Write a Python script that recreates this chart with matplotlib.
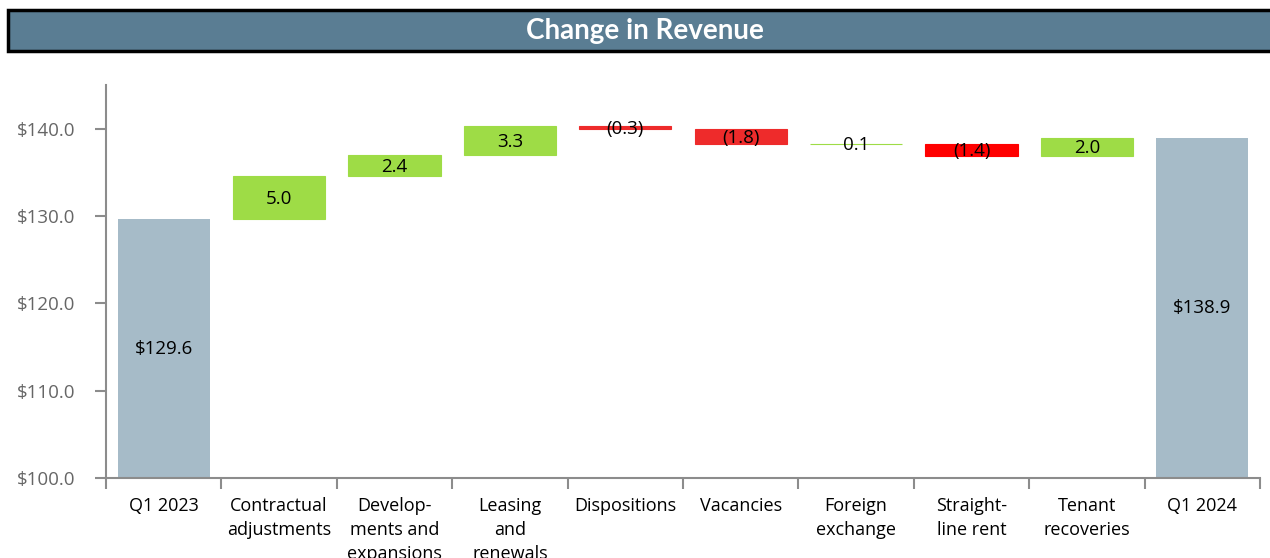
import numpy as np
import matplotlib.pyplot as plt
from matplotlib.patches import Rectangle
from matplotlib.ticker import FixedLocator, NullFormatter

categories = ["Q1 2023", "Contractual\nadjustments", "Develop-\nments and\nexpansions",
              "Leasing\nand\nrenewals", "Dispositions", "Vacancies", "Foreign\nexchange",
              "Straight-\nline rent", "Tenant\nrecoveries", "Q1 2024"]
start_value = 129.6
end_value = 138.9
changes = [5.0, 2.4, 3.3, -0.3, -1.8, 0.1, -1.4, 2.0]
change_labels = ["5.0", "2.4", "3.3", "(0.3)", "(1.8)", "0.1", "(1.4)", "2.0"]
change_colors = ["#9edc46", "#9edc46", "#9edc46", "#ee2b2b", "#ee2b2b", "#9edc46", "#ff0000", "#9edc46"]
yticks = [100, 110, 120, 130, 140]

plt.rcParams['font.family'] = ['Open Sans', 'DejaVu Sans']

fig = plt.figure(figsize=(12.7, 5.58), dpi=100)
ax = fig.add_axes([106 / 1270, 80 / 558, 1154 / 1270, 393 / 558])

x = np.arange(len(categories))
ax.bar(x[0], start_value - 100, bottom=100, width=0.8, color="#a6bbc8")
ax.bar(x[-1], end_value - 100, bottom=100, width=0.8, color="#a6bbc8")
ax.text(x[0], (100 + start_value) / 2, "$%.1f" % start_value, ha="center", va="center", fontsize=13.5)
ax.text(x[-1], (100 + end_value) / 2, "$%.1f" % end_value, ha="center", va="center", fontsize=13.5)

level = start_value
for i, d in enumerate(changes):
    lo = min(level, level + d)
    h = abs(d)
    ax.bar(x[i + 1], h, bottom=lo, width=0.8, color=change_colors[i],
           edgecolor=change_colors[i], linewidth=0.8)
    ax.text(x[i + 1], lo + h / 2 - 0.15, change_labels[i], ha="center", va="center", fontsize=13.5)
    level += d

ax.set_xlim(-0.5, len(categories) - 0.5)
ax.set_ylim(100, 145)
ax.set_yticks(yticks)
ax.set_yticklabels(["$%.1f" % v for v in yticks])
ax.set_xticks(x)
ax.set_xticklabels(categories, fontsize=13, linespacing=1.4, va="top")
ax.xaxis.set_minor_locator(FixedLocator(np.arange(-0.5, len(categories), 1)))
ax.xaxis.set_minor_formatter(NullFormatter())
ax.tick_params(axis="x", which="major", length=0, pad=14)
ax.tick_params(axis="x", which="minor", length=8, width=1.5, color="#8c8c8c")
ax.tick_params(axis="y", length=8, width=1.5, color="#8c8c8c", labelcolor="#666666", labelsize=13.5, pad=14)
for s in ["top", "right"]:
    ax.spines[s].set_visible(False)
for s in ["left", "bottom"]:
    ax.spines[s].set_color("#8c8c8c")
    ax.spines[s].set_linewidth(1.5)

# title bar
fig.patches.append(Rectangle((8 / 1270, 1 - 51 / 558), 1.0, 41 / 558, transform=fig.transFigure,
                             facecolor="#5a7d93", edgecolor="black", linewidth=2.5))
fig.text(645 / 1270, 1 - 31 / 558, "Change in Revenue", color="white", fontsize=20,
         fontweight="bold", ha="center", va="center", family=["Lato", "DejaVu Sans"])

fig.savefig("out.png", dpi=100)
